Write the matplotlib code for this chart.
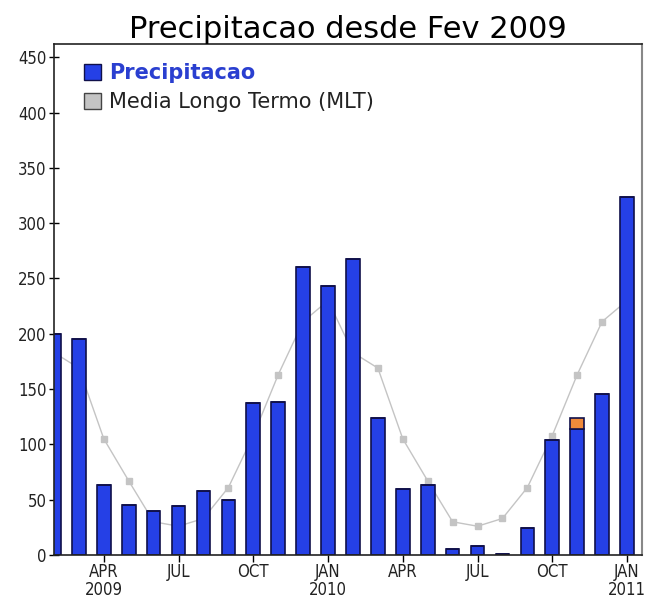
import matplotlib
matplotlib.use("Agg")
import matplotlib.pyplot as plt
from matplotlib.patches import Patch

MONTHS = [
    "2009-02", "2009-03", "2009-04", "2009-05", "2009-06", "2009-07",
    "2009-08", "2009-09", "2009-10", "2009-11", "2009-12", "2010-01",
    "2010-02", "2010-03", "2010-04", "2010-05", "2010-06", "2010-07",
    "2010-08", "2010-09", "2010-10", "2010-11", "2010-12", "2011-01",
]
PRECIP = [200, 195, 63, 45, 40, 44, 58, 50, 137, 138, 260, 243,
          268, 124, 60, 63, 5, 8, 1, 24, 104, 114, 146, 324]
# extra (partial) amount shown in orange on top of the blue bar
EXTRA = [0, 0, 0, 0, 0, 0, 0, 0, 0, 0, 0, 0,
         0, 0, 0, 0, 0, 0, 0, 0, 0, 10, 0, 0]
MLT = [183, 169, 105, 67, 30, 26, 33, 61, 108, 163, 211, 230,
       183, 169, 105, 67, 30, 26, 33, 61, 108, 163, 211, 230]

TICK_POS = [2, 5, 8, 11, 14, 17, 20, 23]
TICK_LABELS = ["APR\n2009", "JUL", "OCT", "JAN\n2010", "APR", "JUL", "OCT", "JAN\n2011"]
Y_TICKS = [0, 50, 100, 150, 200, 250, 300, 350, 400, 450]

BLUE = "#2540e6"
EDGE = "#10104a"
ORANGE = "#f08a3a"
GRAY = "#c4c4c4"

plt.rcParams["font.family"] = ["DejaVu Sans"]

fig = plt.figure(figsize=(6.45, 5.99), dpi=100)
ax = fig.add_axes([0.0837, 0.0735, 0.9116, 0.853])

x = list(range(len(MONTHS)))
ax.plot(x, MLT, color=GRAY, lw=1.0, marker="s", ms=4.5, zorder=1)
ax.bar(x, PRECIP, width=0.55, color=BLUE, edgecolor=EDGE, linewidth=1.2, zorder=2)
ax.bar(x, EXTRA, width=0.55, bottom=PRECIP, color=ORANGE, edgecolor=EDGE,
       linewidth=1.2, zorder=2)

ax.set_xlim(0, 23.6)
ax.set_ylim(0, 462)
ax.set_xticks(TICK_POS)
ax.set_xticklabels(TICK_LABELS, fontsize=12, color="#222222", linespacing=0.95,
                   stretch="condensed")
ax.set_yticks(Y_TICKS)
ax.set_yticklabels([str(v) for v in Y_TICKS], fontsize=12, color="#222222",
                   stretch="condensed")
ax.tick_params(axis="x", direction="out", length=5, width=1, pad=1)
ax.tick_params(axis="y", direction="inout", length=7, width=1, pad=2)

for side in ["left", "bottom", "top"]:
    ax.spines[side].set_color("#222222")
    ax.spines[side].set_linewidth(1.2)
ax.spines["right"].set_color("#888888")
ax.spines["right"].set_linewidth(1.5)

ax.set_title("Precipitacao desde Fev 2009", fontsize=22, pad=3)

handles = [Patch(facecolor=BLUE, edgecolor=EDGE), Patch(facecolor=GRAY, edgecolor="#444444")]
leg = ax.legend(handles, ["Precipitacao", "Media Longo Termo (MLT)"],
                loc="upper left", frameon=False,
                prop={"size": 15},
                handlelength=0.8, handleheight=0.8, handletextpad=0.4,
                labelspacing=0.45, borderaxespad=0.5, bbox_to_anchor=(0.02, 1.0))
texts = leg.get_texts()
texts[0].set_color("#2a3fd0")
texts[0].set_fontweight("bold")
texts[1].set_color("#222222")

fig.savefig("out.png", dpi=100)
